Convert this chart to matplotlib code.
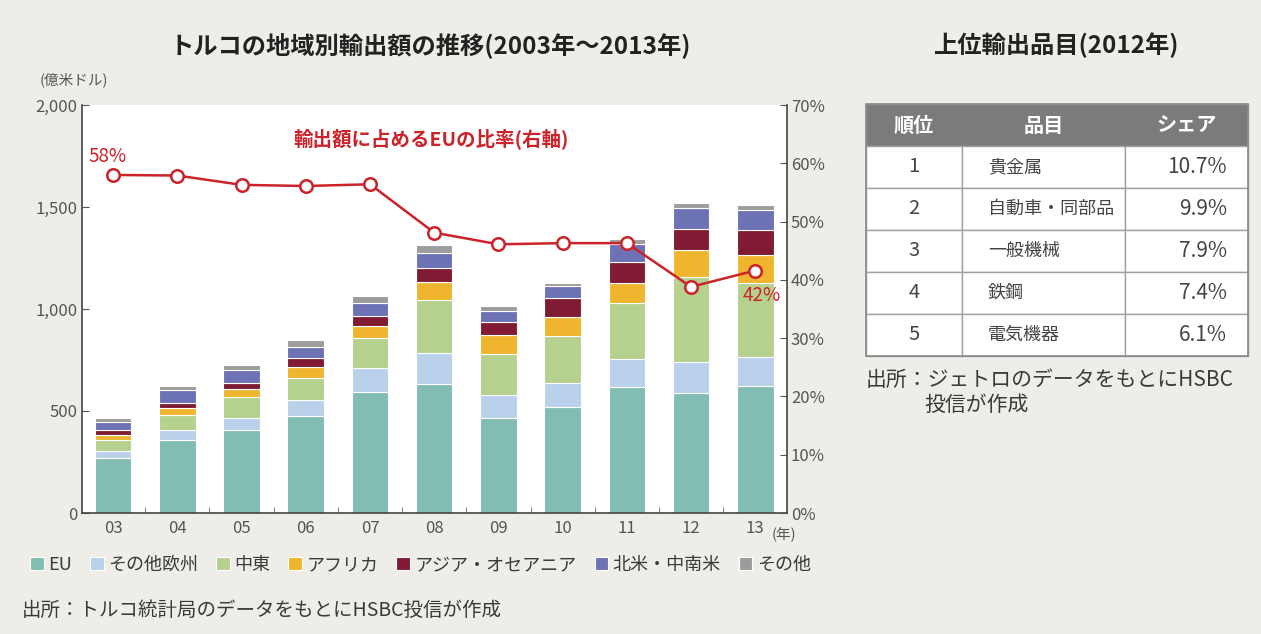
import numpy as np
import matplotlib.pyplot as plt
from matplotlib.patches import Rectangle

plt.rcParams['font.family'] = ['Noto Sans CJK JP', 'DejaVu Sans']

# ---- data ----
years = ["03", "04", "05", "06", "07", "08", "09", "10", "11", "12", "13"]
regions = ["EU", "その他欧州", "中東", "アフリカ", "アジア・オセアニア", "北米・中南米", "その他"]
colors = ["#82bdb3", "#b9d1ea", "#b6d18e", "#efb52f", "#801b33", "#6d72b5", "#9c9c9c"]

# exports by region, 100 million USD
eu = [268, 358, 407, 475, 595, 631, 464, 521, 619, 590, 623]
other_europe = [37, 49, 57, 79, 114, 152, 114, 115, 134, 152, 143]
middle_east = [53, 73, 106, 106, 147, 261, 200, 232, 276, 416, 361]
africa = [24, 34, 38, 57, 61, 90, 95, 94, 100, 131, 138]
asia_oceania = [25, 24, 28, 41, 49, 65, 65, 90, 103, 102, 122]
americas = [41, 65, 65, 57, 62, 74, 52, 59, 85, 102, 98]
others = [16, 21, 24, 33, 36, 41, 25, 18, 25, 25, 25]
stack = [eu, other_europe, middle_east, africa, asia_oceania, americas, others]

# EU share of exports (%)
eu_share = [58.0, 57.9, 56.3, 56.1, 56.4, 48.1, 46.1, 46.3, 46.3, 38.8, 41.6]

# top export items 2012
tbl_header = ["順位", "品目", "シェア"]
tbl_rank = ["1", "2", "3", "4", "5"]
tbl_item = ["貴金属", "自動車・同部品", "一般機械", "鉄鋼", "電気機器"]
tbl_share = ["10.7%", "9.9%", "7.9%", "7.4%", "6.1%"]

bg = "#efede7"
red = "#cc2229"
txt = "#3a3a3a"
tick_c = "#555555"

fig = plt.figure(figsize=(12.61, 6.34), dpi=100, facecolor=bg)
W, H = 1261, 634

ax = fig.add_axes([81.7 / W, 1 - 513 / H, 705 / W, 408 / H])
ax.set_facecolor("white")
x = np.arange(len(years))
bottom = np.zeros(len(years))
for vals, c, name in zip(stack, colors, regions):
    ax.bar(x, vals, width=0.57, bottom=bottom, color=c, edgecolor="white",
           linewidth=0.8, label=name, zorder=2)
    bottom += np.array(vals)

ax.set_xlim(-0.49, len(years) - 0.51)
ax.set_ylim(0, 2000)
ax.set_yticks([0, 500, 1000, 1500, 2000])
ax.set_yticklabels(["0", "500", "1,000", "1,500", "2,000"])
ax.set_xticks(x)
ax.set_xticklabels(years)
ax.set_xticks(x[:-1] + 0.5, minor=True)
ax.tick_params(axis="x", which="major", length=0, pad=5, labelsize=12, labelcolor=tick_c)
ax.tick_params(axis="x", which="minor", direction="in", length=4, color="#666666")
ax.tick_params(axis="y", direction="in", length=5, color=tick_c, labelsize=12,
               labelcolor=tick_c, pad=3)
for s in ["top", "right"]:
    ax.spines[s].set_visible(False)
for s in ["left", "bottom"]:
    ax.spines[s].set_color("#444444")
    ax.spines[s].set_linewidth(1.2)

ax2 = ax.twinx()
ax2.plot(x, eu_share, color=red, lw=1.8, marker="o", ms=9, mfc="white",
         mec=red, mew=1.8, zorder=5)
ax2.set_ylim(0, 70)
ax2.set_yticks(range(0, 80, 10))
ax2.set_yticklabels([f"{v}%" for v in range(0, 80, 10)])
ax2.tick_params(axis="y", direction="in", length=5, color=tick_c, labelsize=12,
                labelcolor=tick_c, pad=3)
for s in ["top", "left", "bottom"]:
    ax2.spines[s].set_visible(False)
ax2.spines["right"].set_color("#444444")
ax2.spines["right"].set_linewidth(1.2)

ax2.annotate(f"{eu_share[0]:.0f}%", (x[0], eu_share[0]), xytext=(-4, 13),
             textcoords="offset points", ha="center", va="center", color=red, fontsize=13.5)
ax2.annotate(f"{eu_share[-1]:.0f}%", (x[-1], eu_share[-1]), xytext=(5, -18),
             textcoords="offset points", ha="center", va="center", color=red, fontsize=13.5)
ax.text(0.496, 0.917, "輸出額に占めるEUの比率(右軸)", transform=ax.transAxes,
        ha="center", va="center", color=red, fontsize=14, fontweight="bold")

# titles and notes
fig.text(430 / W, 1 - 45 / H, "トルコの地域別輸出額の推移(2003年〜2013年)", ha="center",
         va="center", fontsize=17.5, fontweight="bold", color="#222222")
fig.text(1057 / W, 1 - 45 / H, "上位輸出品目(2012年)", ha="center", va="center",
         fontsize=17.5, fontweight="bold", color="#222222")
fig.text(40 / W, 1 - 80 / H, "(億米ドル)", ha="left", va="center", fontsize=10.5, color=tick_c)
fig.text(772 / W, 1 - 535 / H, "(年)", ha="left", va="center", fontsize=10.5, color=tick_c)
fig.text(22 / W, 1 - 610 / H, "出所：トルコ統計局のデータをもとにHSBC投信が作成",
         ha="left", va="center", fontsize=14, color=txt)
fig.text(866 / W, 1 - 380 / H, "出所：ジェトロのデータをもとにHSBC", ha="left",
         va="center", fontsize=15, color=txt)
fig.text(924 / W, 1 - 405 / H, "投信が作成", ha="left", va="center", fontsize=15, color=txt)

handles, labels = ax.get_legend_handles_labels()
fig.legend(handles, labels, loc="center left", bbox_to_anchor=(14 / W, 1 - 565 / H),
           ncol=7, frameon=False, fontsize=13, handlelength=0.75, handleheight=0.75,
           handletextpad=0.25, columnspacing=1.0, labelcolor=txt)

# table
tax = fig.add_axes([0, 0, 1, 1], facecolor="none")
tax.set_xlim(0, W)
tax.set_ylim(H, 0)
tax.axis("off")
col_x = [866, 962, 1125, 1248]
row_h = 42
top = 104
tax.add_patch(Rectangle((col_x[0], top), col_x[-1] - col_x[0], row_h,
                        facecolor="#7b7b7b", edgecolor="#9a9a9a", lw=1))
for j, h in enumerate(tbl_header):
    tax.text((col_x[j] + col_x[j + 1]) / 2, top + row_h / 2, h, ha="center",
             va="center", color="white", fontsize=14.5, fontweight="bold")
for i in range(len(tbl_rank)):
    y0 = top + row_h * (i + 1)
    for j in range(3):
        tax.add_patch(Rectangle((col_x[j], y0), col_x[j + 1] - col_x[j], row_h,
                                facecolor="white", edgecolor="#a0a0a0", lw=1))
    yc = y0 + row_h / 2
    tax.text((col_x[0] + col_x[1]) / 2, yc, tbl_rank[i], ha="center", va="center",
             fontsize=14.5, color="#444444")
    tax.text(988, yc, tbl_item[i], ha="left", va="center", fontsize=13, color="#444444")
    tax.text(1227, yc, tbl_share[i], ha="right", va="center", fontsize=15, color="#444444")
tax.add_patch(Rectangle((col_x[0], top), col_x[-1] - col_x[0], row_h * 6,
                        facecolor="none", edgecolor="#8a8a8a", lw=1.2))

fig.savefig("out.png", dpi=100, facecolor=bg)
